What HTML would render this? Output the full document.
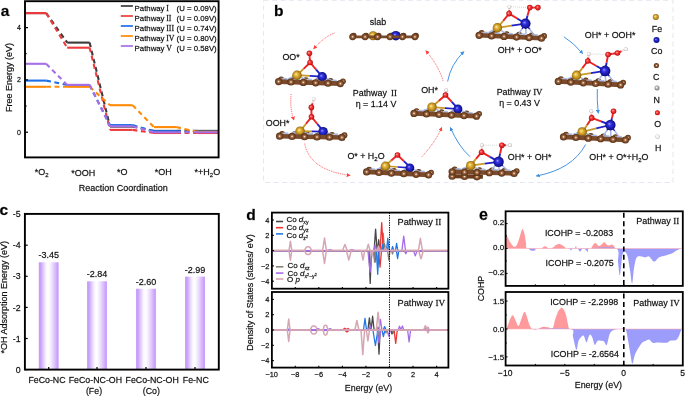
<!DOCTYPE html>
<html><head><meta charset="utf-8"><style>
html,body{margin:0;padding:0;background:#fff;width:685px;height:396px;overflow:hidden}
svg{display:block;will-change:transform}
text{stroke:#000;stroke-width:0.28px;stroke-opacity:0.65}
</style></head><body>
<svg width="685" height="396" viewBox="0 0 685 396">
<text x="0.70" y="16.20" font-size="15.5" font-family="'Liberation Sans', sans-serif" fill="#000" font-weight="bold">a</text>
<line x1="25.80" y1="13.10" x2="46.20" y2="13.10" stroke="#3b3b3b" stroke-width="2.1" stroke-linecap="butt"/>
<line x1="67.20" y1="42.60" x2="89.60" y2="42.60" stroke="#3b3b3b" stroke-width="2.1" stroke-linecap="butt"/>
<line x1="110.00" y1="126.60" x2="132.60" y2="126.60" stroke="#3b3b3b" stroke-width="2.1" stroke-linecap="butt"/>
<line x1="154.00" y1="130.90" x2="176.20" y2="130.90" stroke="#3b3b3b" stroke-width="2.1" stroke-linecap="butt"/>
<line x1="197.20" y1="130.90" x2="218.00" y2="130.90" stroke="#3b3b3b" stroke-width="2.1" stroke-linecap="butt"/>
<line x1="46.20" y1="13.10" x2="67.20" y2="42.60" stroke="#3b3b3b" stroke-width="2.1" stroke-dasharray="4.8 3.6" stroke-dashoffset="0"/>
<line x1="89.60" y1="42.60" x2="110.00" y2="126.60" stroke="#3b3b3b" stroke-width="2.1" stroke-dasharray="4.8 3.6" stroke-dashoffset="0"/>
<line x1="132.60" y1="126.60" x2="154.00" y2="130.90" stroke="#3b3b3b" stroke-width="2.1" stroke-dasharray="4.8 3.6" stroke-dashoffset="0"/>
<line x1="176.20" y1="130.90" x2="197.20" y2="130.90" stroke="#3b3b3b" stroke-width="2.1" stroke-dasharray="4.8 3.6" stroke-dashoffset="0"/>
<line x1="25.80" y1="13.10" x2="46.20" y2="13.10" stroke="#ee3a3c" stroke-width="2.1" stroke-linecap="butt"/>
<line x1="67.20" y1="47.70" x2="89.60" y2="47.70" stroke="#ee3a3c" stroke-width="2.1" stroke-linecap="butt"/>
<line x1="110.00" y1="129.90" x2="132.60" y2="129.90" stroke="#ee3a3c" stroke-width="2.1" stroke-linecap="butt"/>
<line x1="154.00" y1="133.00" x2="176.20" y2="133.00" stroke="#ee3a3c" stroke-width="2.1" stroke-linecap="butt"/>
<line x1="197.20" y1="133.00" x2="218.00" y2="133.00" stroke="#ee3a3c" stroke-width="2.1" stroke-linecap="butt"/>
<line x1="46.20" y1="13.10" x2="67.20" y2="47.70" stroke="#ee3a3c" stroke-width="2.1" stroke-dasharray="4.8 3.6" stroke-dashoffset="0"/>
<line x1="89.60" y1="47.70" x2="110.00" y2="129.90" stroke="#ee3a3c" stroke-width="2.1" stroke-dasharray="4.8 3.6" stroke-dashoffset="0"/>
<line x1="132.60" y1="129.90" x2="154.00" y2="133.00" stroke="#ee3a3c" stroke-width="2.1" stroke-dasharray="4.8 3.6" stroke-dashoffset="0"/>
<line x1="176.20" y1="133.00" x2="197.20" y2="133.00" stroke="#ee3a3c" stroke-width="2.1" stroke-dasharray="4.8 3.6" stroke-dashoffset="0"/>
<line x1="25.80" y1="80.60" x2="46.20" y2="80.60" stroke="#1c6fe8" stroke-width="2.1" stroke-linecap="butt"/>
<line x1="67.20" y1="85.00" x2="89.60" y2="85.00" stroke="#1c6fe8" stroke-width="2.1" stroke-linecap="butt"/>
<line x1="110.00" y1="125.10" x2="132.60" y2="125.10" stroke="#1c6fe8" stroke-width="2.1" stroke-linecap="butt"/>
<line x1="154.00" y1="131.20" x2="176.20" y2="131.20" stroke="#1c6fe8" stroke-width="2.1" stroke-linecap="butt"/>
<line x1="197.20" y1="131.60" x2="218.00" y2="131.60" stroke="#1c6fe8" stroke-width="2.1" stroke-linecap="butt"/>
<line x1="46.20" y1="80.60" x2="67.20" y2="85.00" stroke="#1c6fe8" stroke-width="2.1" stroke-dasharray="4.8 3.6" stroke-dashoffset="0"/>
<line x1="89.60" y1="85.00" x2="110.00" y2="125.10" stroke="#1c6fe8" stroke-width="2.1" stroke-dasharray="4.8 3.6" stroke-dashoffset="0"/>
<line x1="132.60" y1="125.10" x2="154.00" y2="131.20" stroke="#1c6fe8" stroke-width="2.1" stroke-dasharray="4.8 3.6" stroke-dashoffset="0"/>
<line x1="176.20" y1="131.20" x2="197.20" y2="131.60" stroke="#1c6fe8" stroke-width="2.1" stroke-dasharray="4.8 3.6" stroke-dashoffset="0"/>
<line x1="25.80" y1="86.80" x2="46.20" y2="86.80" stroke="#ff8a06" stroke-width="2.1" stroke-linecap="butt"/>
<line x1="67.20" y1="86.80" x2="89.60" y2="86.80" stroke="#ff8a06" stroke-width="2.1" stroke-linecap="butt"/>
<line x1="110.00" y1="105.20" x2="132.60" y2="105.20" stroke="#ff8a06" stroke-width="2.1" stroke-linecap="butt"/>
<line x1="154.00" y1="127.10" x2="176.20" y2="127.10" stroke="#ff8a06" stroke-width="2.1" stroke-linecap="butt"/>
<line x1="197.20" y1="131.80" x2="218.00" y2="131.80" stroke="#ff8a06" stroke-width="2.1" stroke-linecap="butt"/>
<line x1="46.20" y1="86.80" x2="67.20" y2="86.80" stroke="#ff8a06" stroke-width="2.1" stroke-dasharray="4.8 3.6" stroke-dashoffset="0"/>
<line x1="89.60" y1="86.80" x2="110.00" y2="105.20" stroke="#ff8a06" stroke-width="2.1" stroke-dasharray="4.8 3.6" stroke-dashoffset="0"/>
<line x1="132.60" y1="105.20" x2="154.00" y2="127.10" stroke="#ff8a06" stroke-width="2.1" stroke-dasharray="4.8 3.6" stroke-dashoffset="0"/>
<line x1="176.20" y1="127.10" x2="197.20" y2="131.80" stroke="#ff8a06" stroke-width="2.1" stroke-dasharray="4.8 3.6" stroke-dashoffset="0"/>
<line x1="25.80" y1="63.80" x2="46.20" y2="63.80" stroke="#a66fe6" stroke-width="2.1" stroke-linecap="butt"/>
<line x1="67.20" y1="84.90" x2="89.60" y2="84.90" stroke="#a66fe6" stroke-width="2.1" stroke-linecap="butt"/>
<line x1="110.00" y1="126.20" x2="132.60" y2="126.20" stroke="#a66fe6" stroke-width="2.1" stroke-linecap="butt"/>
<line x1="154.00" y1="132.30" x2="176.20" y2="132.30" stroke="#a66fe6" stroke-width="2.1" stroke-linecap="butt"/>
<line x1="197.20" y1="132.30" x2="218.00" y2="132.30" stroke="#a66fe6" stroke-width="2.1" stroke-linecap="butt"/>
<line x1="46.20" y1="63.80" x2="67.20" y2="84.90" stroke="#a66fe6" stroke-width="2.1" stroke-dasharray="4.8 3.6" stroke-dashoffset="0"/>
<line x1="89.60" y1="84.90" x2="110.00" y2="126.20" stroke="#a66fe6" stroke-width="2.1" stroke-dasharray="4.8 3.6" stroke-dashoffset="0"/>
<line x1="132.60" y1="126.20" x2="154.00" y2="132.30" stroke="#a66fe6" stroke-width="2.1" stroke-dasharray="4.8 3.6" stroke-dashoffset="0"/>
<line x1="176.20" y1="132.30" x2="197.20" y2="132.30" stroke="#a66fe6" stroke-width="2.1" stroke-dasharray="4.8 3.6" stroke-dashoffset="0"/>
<rect x="25.00" y="1.20" width="193.60" height="156.20" stroke="#000" stroke-width="1.9" fill="none"/>
<line x1="25.00" y1="132.20" x2="28.00" y2="132.20" stroke="#000" stroke-width="1.2" />
<text x="20.80" y="134.70" font-size="7" font-family="'Liberation Sans', sans-serif" fill="#111" text-anchor="end">0</text>
<line x1="25.00" y1="79.90" x2="28.00" y2="79.90" stroke="#000" stroke-width="1.2" />
<text x="20.80" y="82.40" font-size="7" font-family="'Liberation Sans', sans-serif" fill="#111" text-anchor="end">2</text>
<line x1="25.00" y1="27.60" x2="28.00" y2="27.60" stroke="#000" stroke-width="1.2" />
<text x="20.80" y="30.10" font-size="7" font-family="'Liberation Sans', sans-serif" fill="#111" text-anchor="end">4</text>
<line x1="25.00" y1="106.05" x2="26.80" y2="106.05" stroke="#000" stroke-width="1.0" />
<line x1="25.00" y1="53.75" x2="26.80" y2="53.75" stroke="#000" stroke-width="1.0" />
<text x="12.30" y="77.40" font-size="9" font-family="'Liberation Sans', sans-serif" fill="#111" text-anchor="middle" transform="rotate(-90 12.30 77.40)">Free Energy (eV)</text>
<text x="41.70" y="175.00" font-size="9" font-family="'Liberation Sans', sans-serif" fill="#111" text-anchor="middle">*O<tspan font-size="6" dy="1.7">2</tspan></text>
<text x="83.25" y="175.60" font-size="9" font-family="'Liberation Sans', sans-serif" fill="#111" text-anchor="middle">*OOH</text>
<text x="122.25" y="174.60" font-size="9" font-family="'Liberation Sans', sans-serif" fill="#111" text-anchor="middle">*O</text>
<text x="163.35" y="175.30" font-size="9" font-family="'Liberation Sans', sans-serif" fill="#111" text-anchor="middle">*OH</text>
<text x="207.35" y="175.30" font-size="9" font-family="'Liberation Sans', sans-serif" fill="#111" text-anchor="middle">*+H<tspan font-size="6" dy="1.7">2</tspan><tspan dy="-1.7">O</tspan></text>
<text x="123.20" y="191.30" font-size="9" font-family="'Liberation Sans', sans-serif" fill="#111" text-anchor="middle">Reaction Coordination</text>
<line x1="120.80" y1="6.00" x2="132.90" y2="6.00" stroke="#3b3b3b" stroke-width="1.7" />
<text x="134.60" y="10.60" font-size="7.8" font-family="'Liberation Sans', sans-serif" fill="#111">Pathway</text>
<text x="166.20" y="10.60" font-size="7.8" font-family="'Liberation Serif', serif" fill="#111">I</text>
<text x="176.60" y="10.60" font-size="7.8" font-family="'Liberation Sans', sans-serif" fill="#111">(U = 0.09V)</text>
<line x1="120.80" y1="16.00" x2="132.90" y2="16.00" stroke="#ee3a3c" stroke-width="1.7" />
<text x="134.60" y="20.60" font-size="7.8" font-family="'Liberation Sans', sans-serif" fill="#111">Pathway</text>
<text x="166.20" y="20.60" font-size="7.8" font-family="'Liberation Serif', serif" fill="#111">II</text>
<text x="176.60" y="20.60" font-size="7.8" font-family="'Liberation Sans', sans-serif" fill="#111">(U = 0.09V)</text>
<line x1="120.80" y1="26.00" x2="132.90" y2="26.00" stroke="#1c6fe8" stroke-width="1.7" />
<text x="134.60" y="30.60" font-size="7.8" font-family="'Liberation Sans', sans-serif" fill="#111">Pathway</text>
<text x="166.20" y="30.60" font-size="7.8" font-family="'Liberation Serif', serif" fill="#111">III</text>
<text x="176.60" y="30.60" font-size="7.8" font-family="'Liberation Sans', sans-serif" fill="#111">(U = 0.74V)</text>
<line x1="120.80" y1="36.00" x2="132.90" y2="36.00" stroke="#ff8a06" stroke-width="1.7" />
<text x="134.60" y="40.60" font-size="7.8" font-family="'Liberation Sans', sans-serif" fill="#111">Pathway</text>
<text x="166.20" y="40.60" font-size="7.8" font-family="'Liberation Serif', serif" fill="#111">IV</text>
<text x="176.60" y="40.60" font-size="7.8" font-family="'Liberation Sans', sans-serif" fill="#111">(U = 0.80V)</text>
<line x1="120.80" y1="46.00" x2="132.90" y2="46.00" stroke="#a66fe6" stroke-width="1.7" />
<text x="134.60" y="50.60" font-size="7.8" font-family="'Liberation Sans', sans-serif" fill="#111">Pathway</text>
<text x="166.20" y="50.60" font-size="7.8" font-family="'Liberation Serif', serif" fill="#111">V</text>
<text x="176.60" y="50.60" font-size="7.8" font-family="'Liberation Sans', sans-serif" fill="#111">(U = 0.58V)</text>
<defs><radialGradient id="gC" cx="50%" cy="50%" r="55%" fx="50%" fy="50%"><stop offset="0" stop-color="#faeedc"/><stop offset="0.13" stop-color="#e2c09c"/><stop offset="0.32" stop-color="#9e6846"/><stop offset="0.68" stop-color="#704222"/><stop offset="1" stop-color="#4a2810"/></radialGradient><radialGradient id="gFe" cx="50%" cy="50%" r="55%" fx="38%" fy="38%"><stop offset="0" stop-color="#fff2a8"/><stop offset="0.3" stop-color="#e6b840"/><stop offset="0.7" stop-color="#b88818"/><stop offset="1" stop-color="#6e4c08"/></radialGradient><radialGradient id="gCo" cx="50%" cy="50%" r="55%" fx="38%" fy="38%"><stop offset="0" stop-color="#9a9aff"/><stop offset="0.3" stop-color="#3434e0"/><stop offset="0.7" stop-color="#1818a8"/><stop offset="1" stop-color="#0a0a5c"/></radialGradient><radialGradient id="gO" cx="50%" cy="50%" r="55%" fx="38%" fy="38%"><stop offset="0" stop-color="#ffc4c4"/><stop offset="0.3" stop-color="#ff4444"/><stop offset="0.7" stop-color="#dc1a1a"/><stop offset="1" stop-color="#8c0c0c"/></radialGradient><radialGradient id="gH" cx="50%" cy="50%" r="55%" fx="38%" fy="38%"><stop offset="0" stop-color="#ffffff"/><stop offset="0.55" stop-color="#f4f0f0"/><stop offset="1" stop-color="#b09a9a"/></radialGradient><radialGradient id="gN" cx="50%" cy="50%" r="55%" fx="38%" fy="38%"><stop offset="0" stop-color="#ffffff"/><stop offset="0.4" stop-color="#c4d0ee"/><stop offset="1" stop-color="#7c8cc0"/></radialGradient><radialGradient id="gNg" cx="50%" cy="50%" r="55%" fx="38%" fy="38%"><stop offset="0" stop-color="#ffffff"/><stop offset="0.35" stop-color="#c8c8c8"/><stop offset="1" stop-color="#707070"/></radialGradient><marker id="ahr" viewBox="0 0 6 6" refX="5" refY="3" markerWidth="4" markerHeight="4" orient="auto" markerUnits="userSpaceOnUse"><path d="M0,0 L6,3 L0,6 z" fill="#ff3c3c"/></marker><marker id="ahb" viewBox="0 0 6 6" refX="5" refY="3" markerWidth="4" markerHeight="4" orient="auto" markerUnits="userSpaceOnUse"><path d="M0,0 L6,3 L0,6 z" fill="#3c8ee0"/></marker></defs>
<rect x="263.6" y="0.3" width="409.4" height="182.2" fill="none" stroke="#e4e6f0" stroke-width="1" stroke-dasharray="5 3.5"/>
<text x="273.90" y="16.30" font-size="15.5" font-family="'Liberation Sans', sans-serif" fill="#000" font-weight="bold">b</text>
<circle cx="353.60" cy="35.80" r="3.00" fill="url(#gC)"/>
<circle cx="366.06" cy="35.80" r="3.00" fill="url(#gC)"/>
<circle cx="378.52" cy="35.80" r="3.00" fill="url(#gC)"/>
<circle cx="390.98" cy="35.80" r="3.00" fill="url(#gC)"/>
<circle cx="403.44" cy="35.80" r="3.00" fill="url(#gC)"/>
<circle cx="415.90" cy="35.80" r="3.00" fill="url(#gC)"/>
<circle cx="373.10" cy="35.70" r="4.50" fill="url(#gFe)"/>
<circle cx="395.80" cy="35.70" r="4.80" fill="url(#gCo)"/>
<line x1="352.60" y1="36.80" x2="414.90" y2="36.80" stroke="#7a4a2a" stroke-width="2.8"/>
<circle cx="352.60" cy="36.80" r="3.40" fill="url(#gC)"/>
<circle cx="365.06" cy="36.80" r="3.40" fill="url(#gC)"/>
<circle cx="377.52" cy="36.80" r="3.40" fill="url(#gC)"/>
<circle cx="389.98" cy="36.80" r="3.40" fill="url(#gC)"/>
<circle cx="402.44" cy="36.80" r="3.40" fill="url(#gC)"/>
<circle cx="414.90" cy="36.80" r="3.40" fill="url(#gC)"/>
<text x="378.00" y="25.20" font-size="8.9" font-family="'Liberation Sans', sans-serif" fill="#111" text-anchor="middle">slab</text>
<circle cx="281.20" cy="79.30" r="2.90" fill="url(#gC)"/>
<circle cx="293.55" cy="79.70" r="2.90" fill="url(#gC)"/>
<circle cx="305.90" cy="80.10" r="2.90" fill="url(#gC)"/>
<circle cx="318.25" cy="80.50" r="2.90" fill="url(#gC)"/>
<circle cx="330.60" cy="80.90" r="2.90" fill="url(#gC)"/>
<circle cx="342.95" cy="81.30" r="2.90" fill="url(#gC)"/>
<ellipse cx="284.78" cy="79.20" rx="3.0" ry="1.4" fill="#aebde2"/>
<ellipse cx="297.12" cy="79.60" rx="3.0" ry="1.4" fill="#aebde2"/>
<ellipse cx="309.48" cy="80.00" rx="3.0" ry="1.4" fill="#aebde2"/>
<ellipse cx="321.83" cy="80.40" rx="3.0" ry="1.4" fill="#aebde2"/>
<ellipse cx="334.18" cy="80.80" rx="3.0" ry="1.4" fill="#aebde2"/>
<line x1="297.00" y1="75.20" x2="292.50" y2="77.05" stroke="#c89a28" stroke-width="1.6"/>
<line x1="292.50" y1="77.05" x2="288.00" y2="78.90" stroke="#a8b8e0" stroke-width="1.6"/>
<line x1="297.00" y1="75.20" x2="301.00" y2="77.33" stroke="#c89a28" stroke-width="1.6"/>
<line x1="301.00" y1="77.33" x2="305.00" y2="79.46" stroke="#a8b8e0" stroke-width="1.6"/>
<line x1="297.00" y1="75.20" x2="309.60" y2="75.95" stroke="#c89a28" stroke-width="1.7"/>
<line x1="309.60" y1="75.95" x2="322.20" y2="76.70" stroke="#2020c8" stroke-width="1.7"/>
<line x1="322.20" y1="76.70" x2="318.70" y2="78.24" stroke="#2020c8" stroke-width="1.5"/>
<line x1="318.70" y1="78.24" x2="315.20" y2="79.79" stroke="#a8b8e0" stroke-width="1.5"/>
<line x1="322.20" y1="76.70" x2="322.45" y2="78.36" stroke="#2020c8" stroke-width="1.5"/>
<line x1="322.45" y1="78.36" x2="322.70" y2="80.03" stroke="#a8b8e0" stroke-width="1.5"/>
<line x1="322.20" y1="76.70" x2="326.45" y2="78.49" stroke="#2020c8" stroke-width="1.5"/>
<line x1="326.45" y1="78.49" x2="330.70" y2="80.29" stroke="#a8b8e0" stroke-width="1.5"/>
<line x1="309.40" y1="53.30" x2="309.75" y2="57.90" stroke="#ee2222" stroke-width="1.9"/>
<line x1="309.75" y1="57.90" x2="310.10" y2="62.50" stroke="#ee2222" stroke-width="1.9"/>
<line x1="310.10" y1="62.50" x2="303.55" y2="68.85" stroke="#ee2222" stroke-width="1.9"/>
<line x1="303.55" y1="68.85" x2="297.00" y2="75.20" stroke="#c89a28" stroke-width="1.9"/>
<line x1="310.10" y1="62.50" x2="316.15" y2="69.60" stroke="#ee2222" stroke-width="1.9"/>
<line x1="316.15" y1="69.60" x2="322.20" y2="76.70" stroke="#2020c8" stroke-width="1.9"/>
<circle cx="297.00" cy="75.20" r="4.70" fill="url(#gFe)"/>
<circle cx="322.20" cy="76.70" r="4.70" fill="url(#gCo)"/>
<line x1="278.60" y1="81.60" x2="340.35" y2="83.60" stroke="#7a4a2a" stroke-width="4.6"/>
<circle cx="278.60" cy="81.60" r="3.60" fill="url(#gC)"/>
<circle cx="290.95" cy="82.00" r="3.60" fill="url(#gC)"/>
<circle cx="303.30" cy="82.40" r="3.60" fill="url(#gC)"/>
<circle cx="315.65" cy="82.80" r="3.60" fill="url(#gC)"/>
<circle cx="328.00" cy="83.20" r="3.60" fill="url(#gC)"/>
<circle cx="340.35" cy="83.60" r="3.60" fill="url(#gC)"/>
<circle cx="309.40" cy="53.30" r="2.80" fill="url(#gO)"/>
<circle cx="310.10" cy="62.50" r="2.80" fill="url(#gO)"/>
<text x="282.40" y="60.00" font-size="8.9" font-family="'Liberation Sans', sans-serif" fill="#111">OO*</text>
<circle cx="282.20" cy="133.90" r="2.90" fill="url(#gC)"/>
<circle cx="294.66" cy="134.15" r="2.90" fill="url(#gC)"/>
<circle cx="307.12" cy="134.40" r="2.90" fill="url(#gC)"/>
<circle cx="319.58" cy="134.65" r="2.90" fill="url(#gC)"/>
<circle cx="332.04" cy="134.90" r="2.90" fill="url(#gC)"/>
<circle cx="344.50" cy="135.15" r="2.90" fill="url(#gC)"/>
<ellipse cx="285.83" cy="133.72" rx="3.0" ry="1.4" fill="#aebde2"/>
<ellipse cx="298.29" cy="133.97" rx="3.0" ry="1.4" fill="#aebde2"/>
<ellipse cx="310.75" cy="134.22" rx="3.0" ry="1.4" fill="#aebde2"/>
<ellipse cx="323.21" cy="134.47" rx="3.0" ry="1.4" fill="#aebde2"/>
<ellipse cx="335.67" cy="134.72" rx="3.0" ry="1.4" fill="#aebde2"/>
<line x1="300.10" y1="131.10" x2="295.60" y2="132.27" stroke="#c89a28" stroke-width="1.6"/>
<line x1="295.60" y1="132.27" x2="291.10" y2="133.43" stroke="#a8b8e0" stroke-width="1.6"/>
<line x1="300.10" y1="131.10" x2="304.10" y2="132.44" stroke="#c89a28" stroke-width="1.6"/>
<line x1="304.10" y1="132.44" x2="308.10" y2="133.77" stroke="#a8b8e0" stroke-width="1.6"/>
<line x1="300.10" y1="131.10" x2="311.60" y2="131.35" stroke="#c89a28" stroke-width="1.7"/>
<line x1="311.60" y1="131.35" x2="323.10" y2="131.60" stroke="#2020c8" stroke-width="1.7"/>
<line x1="323.10" y1="131.60" x2="319.60" y2="132.77" stroke="#2020c8" stroke-width="1.5"/>
<line x1="319.60" y1="132.77" x2="316.10" y2="133.93" stroke="#a8b8e0" stroke-width="1.5"/>
<line x1="323.10" y1="131.60" x2="323.35" y2="132.84" stroke="#2020c8" stroke-width="1.5"/>
<line x1="323.35" y1="132.84" x2="323.60" y2="134.08" stroke="#a8b8e0" stroke-width="1.5"/>
<line x1="323.10" y1="131.60" x2="327.35" y2="132.92" stroke="#2020c8" stroke-width="1.5"/>
<line x1="327.35" y1="132.92" x2="331.60" y2="134.24" stroke="#a8b8e0" stroke-width="1.5"/>
<line x1="313.80" y1="99.10" x2="312.60" y2="103.25" stroke="#e8e0e0" stroke-width="1.9"/>
<line x1="312.60" y1="103.25" x2="311.40" y2="107.40" stroke="#ee2222" stroke-width="1.9"/>
<line x1="311.40" y1="107.40" x2="311.45" y2="112.10" stroke="#ee2222" stroke-width="1.9"/>
<line x1="311.45" y1="112.10" x2="311.50" y2="116.80" stroke="#ee2222" stroke-width="1.9"/>
<line x1="311.50" y1="116.80" x2="305.85" y2="124.00" stroke="#ee2222" stroke-width="1.9"/>
<line x1="305.85" y1="124.00" x2="300.20" y2="131.20" stroke="#c89a28" stroke-width="1.9"/>
<line x1="311.50" y1="116.80" x2="317.40" y2="124.00" stroke="#ee2222" stroke-width="1.9"/>
<line x1="317.40" y1="124.00" x2="323.30" y2="131.20" stroke="#2020c8" stroke-width="1.9"/>
<circle cx="300.10" cy="131.10" r="4.70" fill="url(#gFe)"/>
<circle cx="323.10" cy="131.60" r="4.70" fill="url(#gCo)"/>
<line x1="279.60" y1="136.20" x2="341.90" y2="137.45" stroke="#7a4a2a" stroke-width="4.6"/>
<circle cx="279.60" cy="136.20" r="3.60" fill="url(#gC)"/>
<circle cx="292.06" cy="136.45" r="3.60" fill="url(#gC)"/>
<circle cx="304.52" cy="136.70" r="3.60" fill="url(#gC)"/>
<circle cx="316.98" cy="136.95" r="3.60" fill="url(#gC)"/>
<circle cx="329.44" cy="137.20" r="3.60" fill="url(#gC)"/>
<circle cx="341.90" cy="137.45" r="3.60" fill="url(#gC)"/>
<circle cx="313.80" cy="99.10" r="1.90" fill="url(#gH)"/>
<circle cx="311.40" cy="107.40" r="2.80" fill="url(#gO)"/>
<circle cx="311.50" cy="116.80" r="2.80" fill="url(#gO)"/>
<text x="265.80" y="126.10" font-size="8.9" font-family="'Liberation Sans', sans-serif" fill="#111">OOH*</text>
<circle cx="369.20" cy="169.60" r="2.90" fill="url(#gC)"/>
<circle cx="381.58" cy="170.20" r="2.90" fill="url(#gC)"/>
<circle cx="393.96" cy="170.80" r="2.90" fill="url(#gC)"/>
<circle cx="406.34" cy="171.40" r="2.90" fill="url(#gC)"/>
<circle cx="418.72" cy="172.00" r="2.90" fill="url(#gC)"/>
<circle cx="431.10" cy="172.60" r="2.90" fill="url(#gC)"/>
<ellipse cx="372.79" cy="169.60" rx="3.0" ry="1.4" fill="#aebde2"/>
<ellipse cx="385.17" cy="170.20" rx="3.0" ry="1.4" fill="#aebde2"/>
<ellipse cx="397.55" cy="170.80" rx="3.0" ry="1.4" fill="#aebde2"/>
<ellipse cx="409.93" cy="171.40" rx="3.0" ry="1.4" fill="#aebde2"/>
<ellipse cx="422.31" cy="172.00" rx="3.0" ry="1.4" fill="#aebde2"/>
<line x1="385.50" y1="166.20" x2="381.00" y2="167.79" stroke="#c89a28" stroke-width="1.6"/>
<line x1="381.00" y1="167.79" x2="376.50" y2="169.38" stroke="#a8b8e0" stroke-width="1.6"/>
<line x1="385.50" y1="166.20" x2="389.50" y2="168.20" stroke="#c89a28" stroke-width="1.6"/>
<line x1="389.50" y1="168.20" x2="393.50" y2="170.20" stroke="#a8b8e0" stroke-width="1.6"/>
<line x1="385.50" y1="166.20" x2="397.70" y2="167.00" stroke="#c89a28" stroke-width="1.7"/>
<line x1="397.70" y1="167.00" x2="409.90" y2="167.80" stroke="#2020c8" stroke-width="1.7"/>
<line x1="409.90" y1="167.80" x2="406.40" y2="169.23" stroke="#2020c8" stroke-width="1.5"/>
<line x1="406.40" y1="169.23" x2="402.90" y2="170.66" stroke="#a8b8e0" stroke-width="1.5"/>
<line x1="409.90" y1="167.80" x2="410.15" y2="169.41" stroke="#2020c8" stroke-width="1.5"/>
<line x1="410.15" y1="169.41" x2="410.40" y2="171.02" stroke="#a8b8e0" stroke-width="1.5"/>
<line x1="409.90" y1="167.80" x2="414.15" y2="169.61" stroke="#2020c8" stroke-width="1.5"/>
<line x1="414.15" y1="169.61" x2="418.40" y2="171.41" stroke="#a8b8e0" stroke-width="1.5"/>
<line x1="397.50" y1="155.00" x2="391.25" y2="160.45" stroke="#ee2222" stroke-width="1.9"/>
<line x1="391.25" y1="160.45" x2="385.00" y2="165.90" stroke="#c89a28" stroke-width="1.9"/>
<line x1="397.50" y1="155.00" x2="403.85" y2="161.10" stroke="#ee2222" stroke-width="1.9"/>
<line x1="403.85" y1="161.10" x2="410.20" y2="167.20" stroke="#2020c8" stroke-width="1.9"/>
<circle cx="385.50" cy="166.20" r="4.70" fill="url(#gFe)"/>
<circle cx="409.90" cy="167.80" r="4.40" fill="url(#gCo)"/>
<line x1="366.60" y1="171.90" x2="428.50" y2="174.90" stroke="#7a4a2a" stroke-width="4.6"/>
<circle cx="366.60" cy="171.90" r="3.60" fill="url(#gC)"/>
<circle cx="378.98" cy="172.50" r="3.60" fill="url(#gC)"/>
<circle cx="391.36" cy="173.10" r="3.60" fill="url(#gC)"/>
<circle cx="403.74" cy="173.70" r="3.60" fill="url(#gC)"/>
<circle cx="416.12" cy="174.30" r="3.60" fill="url(#gC)"/>
<circle cx="428.50" cy="174.90" r="3.60" fill="url(#gC)"/>
<circle cx="397.50" cy="155.00" r="2.80" fill="url(#gO)"/>
<text x="347.40" y="159.00" font-size="8.9" font-family="'Liberation Sans', sans-serif" fill="#111">O* + H<tspan font-size="6" dy="1.7">2</tspan><tspan dy="-1.7">O</tspan></text>
<circle cx="416.60" cy="111.10" r="2.90" fill="url(#gC)"/>
<circle cx="429.10" cy="111.65" r="2.90" fill="url(#gC)"/>
<circle cx="441.60" cy="112.20" r="2.90" fill="url(#gC)"/>
<circle cx="454.10" cy="112.75" r="2.90" fill="url(#gC)"/>
<circle cx="466.60" cy="113.30" r="2.90" fill="url(#gC)"/>
<circle cx="479.10" cy="113.85" r="2.90" fill="url(#gC)"/>
<ellipse cx="420.25" cy="111.08" rx="3.0" ry="1.4" fill="#aebde2"/>
<ellipse cx="432.75" cy="111.62" rx="3.0" ry="1.4" fill="#aebde2"/>
<ellipse cx="445.25" cy="112.18" rx="3.0" ry="1.4" fill="#aebde2"/>
<ellipse cx="457.75" cy="112.73" rx="3.0" ry="1.4" fill="#aebde2"/>
<ellipse cx="470.25" cy="113.28" rx="3.0" ry="1.4" fill="#aebde2"/>
<line x1="432.00" y1="107.10" x2="427.50" y2="108.95" stroke="#c89a28" stroke-width="1.6"/>
<line x1="427.50" y1="108.95" x2="423.00" y2="110.80" stroke="#a8b8e0" stroke-width="1.6"/>
<line x1="432.00" y1="107.10" x2="436.00" y2="109.32" stroke="#c89a28" stroke-width="1.6"/>
<line x1="436.00" y1="109.32" x2="440.00" y2="111.54" stroke="#a8b8e0" stroke-width="1.6"/>
<line x1="432.00" y1="107.10" x2="444.95" y2="108.05" stroke="#c89a28" stroke-width="1.7"/>
<line x1="444.95" y1="108.05" x2="457.90" y2="109.00" stroke="#2020c8" stroke-width="1.7"/>
<line x1="457.90" y1="109.00" x2="454.40" y2="110.51" stroke="#2020c8" stroke-width="1.5"/>
<line x1="454.40" y1="110.51" x2="450.90" y2="112.02" stroke="#a8b8e0" stroke-width="1.5"/>
<line x1="457.90" y1="109.00" x2="458.15" y2="110.68" stroke="#2020c8" stroke-width="1.5"/>
<line x1="458.15" y1="110.68" x2="458.40" y2="112.35" stroke="#a8b8e0" stroke-width="1.5"/>
<line x1="457.90" y1="109.00" x2="462.15" y2="110.85" stroke="#2020c8" stroke-width="1.5"/>
<line x1="462.15" y1="110.85" x2="466.40" y2="112.71" stroke="#a8b8e0" stroke-width="1.5"/>
<line x1="446.20" y1="90.20" x2="445.85" y2="92.60" stroke="#e8e0e0" stroke-width="1.9"/>
<line x1="445.85" y1="92.60" x2="445.50" y2="95.00" stroke="#ee2222" stroke-width="1.9"/>
<line x1="445.50" y1="95.00" x2="438.65" y2="101.05" stroke="#ee2222" stroke-width="1.9"/>
<line x1="438.65" y1="101.05" x2="431.80" y2="107.10" stroke="#c89a28" stroke-width="1.9"/>
<line x1="445.50" y1="95.00" x2="451.75" y2="101.80" stroke="#ee2222" stroke-width="1.9"/>
<line x1="451.75" y1="101.80" x2="458.00" y2="108.60" stroke="#2020c8" stroke-width="1.9"/>
<circle cx="432.00" cy="107.10" r="4.70" fill="url(#gFe)"/>
<circle cx="457.90" cy="109.00" r="4.50" fill="url(#gCo)"/>
<line x1="414.00" y1="113.40" x2="476.50" y2="116.15" stroke="#7a4a2a" stroke-width="4.6"/>
<circle cx="414.00" cy="113.40" r="3.60" fill="url(#gC)"/>
<circle cx="426.50" cy="113.95" r="3.60" fill="url(#gC)"/>
<circle cx="439.00" cy="114.50" r="3.60" fill="url(#gC)"/>
<circle cx="451.50" cy="115.05" r="3.60" fill="url(#gC)"/>
<circle cx="464.00" cy="115.60" r="3.60" fill="url(#gC)"/>
<circle cx="476.50" cy="116.15" r="3.60" fill="url(#gC)"/>
<circle cx="446.20" cy="90.20" r="1.90" fill="url(#gH)"/>
<circle cx="445.50" cy="95.00" r="2.80" fill="url(#gO)"/>
<text x="421.20" y="92.90" font-size="8.9" font-family="'Liberation Sans', sans-serif" fill="#111">OH*</text>
<circle cx="481.70" cy="33.00" r="2.90" fill="url(#gC)"/>
<circle cx="494.18" cy="33.58" r="2.90" fill="url(#gC)"/>
<circle cx="506.66" cy="34.16" r="2.90" fill="url(#gC)"/>
<circle cx="519.14" cy="34.74" r="2.90" fill="url(#gC)"/>
<circle cx="531.62" cy="35.32" r="2.90" fill="url(#gC)"/>
<circle cx="544.10" cy="35.90" r="2.90" fill="url(#gC)"/>
<ellipse cx="485.34" cy="32.99" rx="3.0" ry="1.4" fill="#aebde2"/>
<ellipse cx="497.82" cy="33.57" rx="3.0" ry="1.4" fill="#aebde2"/>
<ellipse cx="510.30" cy="34.15" rx="3.0" ry="1.4" fill="#aebde2"/>
<ellipse cx="522.78" cy="34.73" rx="3.0" ry="1.4" fill="#aebde2"/>
<ellipse cx="535.26" cy="35.31" rx="3.0" ry="1.4" fill="#aebde2"/>
<line x1="497.40" y1="27.80" x2="492.90" y2="30.27" stroke="#c89a28" stroke-width="1.6"/>
<line x1="492.90" y1="30.27" x2="488.40" y2="32.73" stroke="#a8b8e0" stroke-width="1.6"/>
<line x1="497.40" y1="27.80" x2="501.40" y2="30.66" stroke="#c89a28" stroke-width="1.6"/>
<line x1="501.40" y1="30.66" x2="505.40" y2="33.52" stroke="#a8b8e0" stroke-width="1.6"/>
<line x1="497.40" y1="27.80" x2="511.45" y2="25.70" stroke="#c89a28" stroke-width="1.7"/>
<line x1="511.45" y1="25.70" x2="525.50" y2="23.60" stroke="#2020c8" stroke-width="1.7"/>
<line x1="525.50" y1="23.60" x2="522.00" y2="28.87" stroke="#2020c8" stroke-width="1.5"/>
<line x1="522.00" y1="28.87" x2="518.50" y2="34.13" stroke="#a8b8e0" stroke-width="1.5"/>
<line x1="525.50" y1="23.60" x2="525.75" y2="29.04" stroke="#2020c8" stroke-width="1.5"/>
<line x1="525.75" y1="29.04" x2="526.00" y2="34.48" stroke="#a8b8e0" stroke-width="1.5"/>
<line x1="525.50" y1="23.60" x2="529.75" y2="29.23" stroke="#2020c8" stroke-width="1.5"/>
<line x1="529.75" y1="29.23" x2="534.00" y2="34.85" stroke="#a8b8e0" stroke-width="1.5"/>
<line x1="509.40" y1="6.80" x2="509.25" y2="10.20" stroke="#e8e0e0" stroke-width="1.9"/>
<line x1="509.25" y1="10.20" x2="509.10" y2="13.60" stroke="#ee2222" stroke-width="1.9"/>
<line x1="509.10" y1="13.60" x2="503.20" y2="20.80" stroke="#ee2222" stroke-width="1.9"/>
<line x1="503.20" y1="20.80" x2="497.30" y2="28.00" stroke="#c89a28" stroke-width="1.9"/>
<line x1="509.10" y1="13.60" x2="517.20" y2="18.55" stroke="#ee2222" stroke-width="1.9"/>
<line x1="517.20" y1="18.55" x2="525.30" y2="23.50" stroke="#2020c8" stroke-width="1.9"/>
<line x1="525.30" y1="23.50" x2="527.55" y2="15.55" stroke="#2020c8" stroke-width="1.9"/>
<line x1="527.55" y1="15.55" x2="529.80" y2="7.60" stroke="#ee2222" stroke-width="1.9"/>
<line x1="529.80" y1="7.60" x2="533.85" y2="7.60" stroke="#ee2222" stroke-width="1.9"/>
<line x1="533.85" y1="7.60" x2="537.90" y2="7.60" stroke="#ee2222" stroke-width="1.9"/>
<line x1="511.00" y1="6.80" x2="527.00" y2="7.40" stroke="#c8c8c8" stroke-width="0.8" stroke-dasharray="1 1"/>
<circle cx="497.40" cy="27.80" r="4.70" fill="url(#gFe)"/>
<circle cx="525.50" cy="23.60" r="5.10" fill="url(#gCo)"/>
<line x1="479.10" y1="35.30" x2="541.50" y2="38.20" stroke="#7a4a2a" stroke-width="4.6"/>
<circle cx="479.10" cy="35.30" r="3.60" fill="url(#gC)"/>
<circle cx="491.58" cy="35.88" r="3.60" fill="url(#gC)"/>
<circle cx="504.06" cy="36.46" r="3.60" fill="url(#gC)"/>
<circle cx="516.54" cy="37.04" r="3.60" fill="url(#gC)"/>
<circle cx="529.02" cy="37.62" r="3.60" fill="url(#gC)"/>
<circle cx="541.50" cy="38.20" r="3.60" fill="url(#gC)"/>
<circle cx="509.40" cy="6.80" r="1.90" fill="url(#gH)"/>
<circle cx="509.10" cy="13.60" r="2.80" fill="url(#gO)"/>
<circle cx="529.80" cy="7.60" r="2.80" fill="url(#gO)"/>
<circle cx="537.90" cy="7.60" r="2.80" fill="url(#gO)"/>
<text x="497.70" y="53.20" font-size="8.9" font-family="'Liberation Sans', sans-serif" fill="#111">OH* + OO*</text>
<circle cx="560.90" cy="79.10" r="2.90" fill="url(#gC)"/>
<circle cx="573.35" cy="79.80" r="2.90" fill="url(#gC)"/>
<circle cx="585.80" cy="80.50" r="2.90" fill="url(#gC)"/>
<circle cx="598.25" cy="81.20" r="2.90" fill="url(#gC)"/>
<circle cx="610.70" cy="81.90" r="2.90" fill="url(#gC)"/>
<circle cx="623.15" cy="82.60" r="2.90" fill="url(#gC)"/>
<ellipse cx="564.52" cy="79.15" rx="3.0" ry="1.4" fill="#aebde2"/>
<ellipse cx="576.97" cy="79.85" rx="3.0" ry="1.4" fill="#aebde2"/>
<ellipse cx="589.42" cy="80.55" rx="3.0" ry="1.4" fill="#aebde2"/>
<ellipse cx="601.88" cy="81.25" rx="3.0" ry="1.4" fill="#aebde2"/>
<ellipse cx="614.32" cy="81.95" rx="3.0" ry="1.4" fill="#aebde2"/>
<line x1="576.60" y1="75.30" x2="572.10" y2="77.11" stroke="#c89a28" stroke-width="1.6"/>
<line x1="572.10" y1="77.11" x2="567.60" y2="78.92" stroke="#a8b8e0" stroke-width="1.6"/>
<line x1="576.60" y1="75.30" x2="580.60" y2="77.59" stroke="#c89a28" stroke-width="1.6"/>
<line x1="580.60" y1="77.59" x2="584.60" y2="79.88" stroke="#a8b8e0" stroke-width="1.6"/>
<line x1="576.60" y1="75.30" x2="590.85" y2="73.10" stroke="#c89a28" stroke-width="1.7"/>
<line x1="590.85" y1="73.10" x2="605.10" y2="70.90" stroke="#2020c8" stroke-width="1.7"/>
<line x1="605.10" y1="70.90" x2="601.60" y2="75.77" stroke="#2020c8" stroke-width="1.5"/>
<line x1="601.60" y1="75.77" x2="598.10" y2="80.64" stroke="#a8b8e0" stroke-width="1.5"/>
<line x1="605.10" y1="70.90" x2="605.35" y2="75.98" stroke="#2020c8" stroke-width="1.5"/>
<line x1="605.35" y1="75.98" x2="605.60" y2="81.06" stroke="#a8b8e0" stroke-width="1.5"/>
<line x1="605.10" y1="70.90" x2="609.35" y2="76.20" stroke="#2020c8" stroke-width="1.5"/>
<line x1="609.35" y1="76.20" x2="613.60" y2="81.51" stroke="#a8b8e0" stroke-width="1.5"/>
<line x1="588.80" y1="54.00" x2="588.30" y2="57.50" stroke="#e8e0e0" stroke-width="1.9"/>
<line x1="588.30" y1="57.50" x2="587.80" y2="61.00" stroke="#ee2222" stroke-width="1.9"/>
<line x1="587.80" y1="61.00" x2="582.30" y2="68.15" stroke="#ee2222" stroke-width="1.9"/>
<line x1="582.30" y1="68.15" x2="576.80" y2="75.30" stroke="#c89a28" stroke-width="1.9"/>
<line x1="587.80" y1="61.00" x2="596.45" y2="65.95" stroke="#ee2222" stroke-width="1.9"/>
<line x1="596.45" y1="65.95" x2="605.10" y2="70.90" stroke="#2020c8" stroke-width="1.9"/>
<line x1="605.10" y1="70.90" x2="606.60" y2="62.70" stroke="#2020c8" stroke-width="1.9"/>
<line x1="606.60" y1="62.70" x2="608.10" y2="54.50" stroke="#ee2222" stroke-width="1.9"/>
<line x1="608.10" y1="54.50" x2="612.80" y2="53.75" stroke="#ee2222" stroke-width="1.9"/>
<line x1="612.80" y1="53.75" x2="617.50" y2="53.00" stroke="#ee2222" stroke-width="1.9"/>
<line x1="617.50" y1="53.00" x2="621.65" y2="51.10" stroke="#ee2222" stroke-width="1.9"/>
<line x1="621.65" y1="51.10" x2="625.80" y2="49.20" stroke="#e8e0e0" stroke-width="1.9"/>
<line x1="590.50" y1="54.00" x2="605.50" y2="54.40" stroke="#c8c8c8" stroke-width="0.8" stroke-dasharray="1 1"/>
<circle cx="576.60" cy="75.30" r="4.70" fill="url(#gFe)"/>
<circle cx="605.10" cy="70.90" r="5.30" fill="url(#gCo)"/>
<line x1="558.30" y1="81.40" x2="620.55" y2="84.90" stroke="#7a4a2a" stroke-width="4.6"/>
<circle cx="558.30" cy="81.40" r="3.60" fill="url(#gC)"/>
<circle cx="570.75" cy="82.10" r="3.60" fill="url(#gC)"/>
<circle cx="583.20" cy="82.80" r="3.60" fill="url(#gC)"/>
<circle cx="595.65" cy="83.50" r="3.60" fill="url(#gC)"/>
<circle cx="608.10" cy="84.20" r="3.60" fill="url(#gC)"/>
<circle cx="620.55" cy="84.90" r="3.60" fill="url(#gC)"/>
<circle cx="588.80" cy="54.00" r="1.90" fill="url(#gH)"/>
<circle cx="587.80" cy="61.00" r="2.80" fill="url(#gO)"/>
<circle cx="608.10" cy="54.50" r="2.80" fill="url(#gO)"/>
<circle cx="617.50" cy="53.00" r="2.80" fill="url(#gO)"/>
<circle cx="625.80" cy="49.20" r="1.90" fill="url(#gH)"/>
<text x="584.80" y="37.70" font-size="8.9" font-family="'Liberation Sans', sans-serif" fill="#111">OH* + OOH*</text>
<circle cx="566.10" cy="134.60" r="2.90" fill="url(#gC)"/>
<circle cx="578.48" cy="135.22" r="2.90" fill="url(#gC)"/>
<circle cx="590.86" cy="135.84" r="2.90" fill="url(#gC)"/>
<circle cx="603.24" cy="136.46" r="2.90" fill="url(#gC)"/>
<circle cx="615.62" cy="137.08" r="2.90" fill="url(#gC)"/>
<circle cx="628.00" cy="137.70" r="2.90" fill="url(#gC)"/>
<ellipse cx="569.69" cy="134.61" rx="3.0" ry="1.4" fill="#aebde2"/>
<ellipse cx="582.07" cy="135.23" rx="3.0" ry="1.4" fill="#aebde2"/>
<ellipse cx="594.45" cy="135.85" rx="3.0" ry="1.4" fill="#aebde2"/>
<ellipse cx="606.83" cy="136.47" rx="3.0" ry="1.4" fill="#aebde2"/>
<ellipse cx="619.21" cy="137.09" rx="3.0" ry="1.4" fill="#aebde2"/>
<line x1="582.20" y1="131.90" x2="577.70" y2="133.14" stroke="#c89a28" stroke-width="1.6"/>
<line x1="577.70" y1="133.14" x2="573.20" y2="134.39" stroke="#a8b8e0" stroke-width="1.6"/>
<line x1="582.20" y1="131.90" x2="586.20" y2="133.57" stroke="#c89a28" stroke-width="1.6"/>
<line x1="586.20" y1="133.57" x2="590.20" y2="135.24" stroke="#a8b8e0" stroke-width="1.6"/>
<line x1="582.20" y1="131.90" x2="596.30" y2="128.45" stroke="#c89a28" stroke-width="1.7"/>
<line x1="596.30" y1="128.45" x2="610.40" y2="125.00" stroke="#2020c8" stroke-width="1.7"/>
<line x1="610.40" y1="125.00" x2="606.90" y2="130.45" stroke="#2020c8" stroke-width="1.5"/>
<line x1="606.90" y1="130.45" x2="603.40" y2="135.90" stroke="#a8b8e0" stroke-width="1.5"/>
<line x1="610.40" y1="125.00" x2="610.65" y2="130.64" stroke="#2020c8" stroke-width="1.5"/>
<line x1="610.65" y1="130.64" x2="610.90" y2="136.27" stroke="#a8b8e0" stroke-width="1.5"/>
<line x1="610.40" y1="125.00" x2="614.65" y2="130.84" stroke="#2020c8" stroke-width="1.5"/>
<line x1="614.65" y1="130.84" x2="618.90" y2="136.67" stroke="#a8b8e0" stroke-width="1.5"/>
<line x1="591.30" y1="111.20" x2="591.50" y2="114.55" stroke="#e8e0e0" stroke-width="1.9"/>
<line x1="591.50" y1="114.55" x2="591.70" y2="117.90" stroke="#ee2222" stroke-width="1.9"/>
<line x1="591.70" y1="117.90" x2="586.95" y2="125.15" stroke="#ee2222" stroke-width="1.9"/>
<line x1="586.95" y1="125.15" x2="582.20" y2="132.40" stroke="#c89a28" stroke-width="1.9"/>
<line x1="591.70" y1="117.90" x2="601.05" y2="121.45" stroke="#ee2222" stroke-width="1.9"/>
<line x1="601.05" y1="121.45" x2="610.40" y2="125.00" stroke="#2020c8" stroke-width="1.9"/>
<line x1="610.40" y1="125.00" x2="611.95" y2="118.10" stroke="#2020c8" stroke-width="1.9"/>
<line x1="611.95" y1="118.10" x2="613.50" y2="111.20" stroke="#ee2222" stroke-width="1.9"/>
<circle cx="582.20" cy="131.90" r="4.70" fill="url(#gFe)"/>
<circle cx="610.40" cy="125.00" r="5.20" fill="url(#gCo)"/>
<line x1="563.50" y1="136.90" x2="625.40" y2="140.00" stroke="#7a4a2a" stroke-width="4.6"/>
<circle cx="563.50" cy="136.90" r="3.60" fill="url(#gC)"/>
<circle cx="575.88" cy="137.52" r="3.60" fill="url(#gC)"/>
<circle cx="588.26" cy="138.14" r="3.60" fill="url(#gC)"/>
<circle cx="600.64" cy="138.76" r="3.60" fill="url(#gC)"/>
<circle cx="613.02" cy="139.38" r="3.60" fill="url(#gC)"/>
<circle cx="625.40" cy="140.00" r="3.60" fill="url(#gC)"/>
<circle cx="591.30" cy="111.20" r="1.90" fill="url(#gH)"/>
<circle cx="591.70" cy="117.90" r="2.80" fill="url(#gO)"/>
<circle cx="613.50" cy="111.20" r="2.80" fill="url(#gO)"/>
<text x="589.30" y="160.20" font-size="8.9" font-family="'Liberation Sans', sans-serif" fill="#111">OH* + O*+H<tspan font-size="6" dy="1.7">2</tspan><tspan dy="-1.7">O</tspan></text>
<circle cx="454.70" cy="169.50" r="2.90" fill="url(#gC)"/>
<circle cx="467.10" cy="169.82" r="2.90" fill="url(#gC)"/>
<circle cx="479.50" cy="170.14" r="2.90" fill="url(#gC)"/>
<circle cx="491.90" cy="170.46" r="2.90" fill="url(#gC)"/>
<circle cx="504.30" cy="170.78" r="2.90" fill="url(#gC)"/>
<circle cx="516.70" cy="171.10" r="2.90" fill="url(#gC)"/>
<ellipse cx="458.30" cy="169.36" rx="3.0" ry="1.4" fill="#aebde2"/>
<ellipse cx="470.70" cy="169.68" rx="3.0" ry="1.4" fill="#aebde2"/>
<ellipse cx="483.10" cy="170.00" rx="3.0" ry="1.4" fill="#aebde2"/>
<ellipse cx="495.50" cy="170.32" rx="3.0" ry="1.4" fill="#aebde2"/>
<ellipse cx="507.90" cy="170.64" rx="3.0" ry="1.4" fill="#aebde2"/>
<line x1="470.80" y1="165.60" x2="466.30" y2="167.33" stroke="#c89a28" stroke-width="1.6"/>
<line x1="466.30" y1="167.33" x2="461.80" y2="169.05" stroke="#a8b8e0" stroke-width="1.6"/>
<line x1="470.80" y1="165.60" x2="474.80" y2="167.54" stroke="#c89a28" stroke-width="1.6"/>
<line x1="474.80" y1="167.54" x2="478.80" y2="169.49" stroke="#a8b8e0" stroke-width="1.6"/>
<line x1="470.80" y1="165.60" x2="484.70" y2="163.70" stroke="#c89a28" stroke-width="1.7"/>
<line x1="484.70" y1="163.70" x2="498.60" y2="161.80" stroke="#2020c8" stroke-width="1.7"/>
<line x1="498.60" y1="161.80" x2="495.10" y2="165.81" stroke="#2020c8" stroke-width="1.5"/>
<line x1="495.10" y1="165.81" x2="491.60" y2="169.82" stroke="#a8b8e0" stroke-width="1.5"/>
<line x1="498.60" y1="161.80" x2="498.85" y2="165.91" stroke="#2020c8" stroke-width="1.5"/>
<line x1="498.85" y1="165.91" x2="499.10" y2="170.01" stroke="#a8b8e0" stroke-width="1.5"/>
<line x1="498.60" y1="161.80" x2="502.85" y2="166.01" stroke="#2020c8" stroke-width="1.5"/>
<line x1="502.85" y1="166.01" x2="507.10" y2="170.22" stroke="#a8b8e0" stroke-width="1.5"/>
<line x1="482.00" y1="145.20" x2="481.80" y2="148.70" stroke="#e8e0e0" stroke-width="1.9"/>
<line x1="481.80" y1="148.70" x2="481.60" y2="152.20" stroke="#ee2222" stroke-width="1.9"/>
<line x1="481.60" y1="152.20" x2="476.00" y2="158.90" stroke="#ee2222" stroke-width="1.9"/>
<line x1="476.00" y1="158.90" x2="470.40" y2="165.60" stroke="#c89a28" stroke-width="1.9"/>
<line x1="481.60" y1="152.20" x2="490.00" y2="156.90" stroke="#ee2222" stroke-width="1.9"/>
<line x1="490.00" y1="156.90" x2="498.40" y2="161.60" stroke="#2020c8" stroke-width="1.9"/>
<line x1="498.40" y1="161.60" x2="500.15" y2="153.40" stroke="#2020c8" stroke-width="1.9"/>
<line x1="500.15" y1="153.40" x2="501.90" y2="145.20" stroke="#ee2222" stroke-width="1.9"/>
<line x1="501.90" y1="145.20" x2="505.95" y2="145.20" stroke="#ee2222" stroke-width="1.9"/>
<line x1="505.95" y1="145.20" x2="510.00" y2="145.20" stroke="#e8e0e0" stroke-width="1.9"/>
<line x1="483.80" y1="145.20" x2="499.50" y2="145.20" stroke="#c8c8c8" stroke-width="0.8" stroke-dasharray="1 1"/>
<circle cx="470.80" cy="165.60" r="4.70" fill="url(#gFe)"/>
<circle cx="498.60" cy="161.80" r="5.20" fill="url(#gCo)"/>
<line x1="452.10" y1="176.20" x2="482.90" y2="176.84" stroke="#6a3c1c" stroke-width="4"/>
<circle cx="452.10" cy="176.20" r="3.60" fill="url(#gC)"/>
<circle cx="464.50" cy="176.52" r="3.60" fill="url(#gC)"/>
<circle cx="476.90" cy="176.84" r="3.60" fill="url(#gC)"/>
<line x1="452.10" y1="171.80" x2="514.10" y2="173.40" stroke="#7a4a2a" stroke-width="4.6"/>
<circle cx="452.10" cy="171.80" r="3.60" fill="url(#gC)"/>
<circle cx="464.50" cy="172.12" r="3.60" fill="url(#gC)"/>
<circle cx="476.90" cy="172.44" r="3.60" fill="url(#gC)"/>
<circle cx="489.30" cy="172.76" r="3.60" fill="url(#gC)"/>
<circle cx="501.70" cy="173.08" r="3.60" fill="url(#gC)"/>
<circle cx="514.10" cy="173.40" r="3.60" fill="url(#gC)"/>
<circle cx="482.00" cy="145.20" r="1.90" fill="url(#gH)"/>
<circle cx="481.60" cy="152.20" r="2.80" fill="url(#gO)"/>
<circle cx="501.90" cy="145.20" r="2.80" fill="url(#gO)"/>
<circle cx="510.00" cy="145.20" r="1.90" fill="url(#gH)"/>
<text x="507.80" y="160.10" font-size="8.9" font-family="'Liberation Sans', sans-serif" fill="#111">OH* + OH*</text>
<text x="352.80" y="96.30" font-size="8.9" font-family="'Liberation Sans', sans-serif" fill="#111">Pathway</text>
<text x="397.00" y="96.30" font-size="8.9" font-family="'Liberation Serif', serif" fill="#111" text-anchor="end">II</text>
<text x="376.00" y="107.20" font-size="8.9" font-family="'Liberation Sans', sans-serif" fill="#111" text-anchor="middle">η = 1.14 V</text>
<text x="496.70" y="95.20" font-size="8.9" font-family="'Liberation Sans', sans-serif" fill="#111">Pathway</text>
<text x="542.50" y="95.20" font-size="8.9" font-family="'Liberation Serif', serif" fill="#111" text-anchor="end">IV</text>
<text x="519.50" y="106.20" font-size="8.9" font-family="'Liberation Sans', sans-serif" fill="#111" text-anchor="middle">η = 0.43 V</text>
<path d="M334.40,33.10 Q324.50,36.50 313.70,48.80" fill="none" stroke="#ff3c3c" stroke-width="0.85" stroke-dasharray="1 0.9" marker-end="url(#ahr)"/>
<path d="M291.20,94.00 Q289.50,107.00 293.90,119.90" fill="none" stroke="#ff3c3c" stroke-width="0.85" stroke-dasharray="1 0.9" marker-end="url(#ahr)"/>
<path d="M304.70,143.60 Q309.50,169.90 350.00,175.50" fill="none" stroke="#ff3c3c" stroke-width="0.85" stroke-dasharray="1 0.9" marker-end="url(#ahr)"/>
<path d="M422.00,156.70 Q436.20,140.90 441.60,127.60" fill="none" stroke="#ff3c3c" stroke-width="0.85" stroke-dasharray="1 0.9" marker-end="url(#ahr)"/>
<path d="M443.00,80.80 Q438.50,65.40 425.90,50.80" fill="none" stroke="#ff3c3c" stroke-width="0.85" stroke-dasharray="1 0.9" marker-end="url(#ahr)"/>
<path d="M447.60,81.50 Q450.70,64.60 463.80,51.70" fill="none" stroke="#3c8ee0" stroke-width="0.95" marker-end="url(#ahb)"/>
<path d="M563.90,36.80 Q573.40,42.60 582.60,53.60" fill="none" stroke="#3c8ee0" stroke-width="0.95" marker-end="url(#ahb)"/>
<path d="M597.30,89.00 Q596.80,100.00 598.30,113.20" fill="none" stroke="#3c8ee0" stroke-width="0.95" marker-end="url(#ahb)"/>
<path d="M585.60,144.50 Q572.40,169.20 536.40,176.00" fill="none" stroke="#3c8ee0" stroke-width="0.95" marker-end="url(#ahb)"/>
<path d="M470.00,156.70 Q458.20,145.90 450.40,127.60" fill="none" stroke="#3c8ee0" stroke-width="0.95" marker-end="url(#ahb)"/>
<circle cx="655.80" cy="17.00" r="3.00" fill="url(#gFe)"/>
<text x="656.90" y="32.10" font-size="8.9" font-family="'Liberation Sans', sans-serif" fill="#111" text-anchor="middle">Fe</text>
<circle cx="656.50" cy="40.00" r="3.00" fill="url(#gCo)"/>
<text x="656.70" y="54.30" font-size="8.9" font-family="'Liberation Sans', sans-serif" fill="#111" text-anchor="middle">Co</text>
<circle cx="656.40" cy="65.50" r="2.60" fill="url(#gC)"/>
<text x="656.20" y="80.00" font-size="8.9" font-family="'Liberation Sans', sans-serif" fill="#111" text-anchor="middle">C</text>
<circle cx="657.00" cy="87.90" r="2.50" fill="url(#gNg)"/>
<text x="656.70" y="102.70" font-size="8.9" font-family="'Liberation Sans', sans-serif" fill="#111" text-anchor="middle">N</text>
<circle cx="657.40" cy="112.80" r="2.50" fill="url(#gO)"/>
<text x="657.80" y="127.40" font-size="8.9" font-family="'Liberation Sans', sans-serif" fill="#111" text-anchor="middle">O</text>
<circle cx="657.50" cy="136.60" r="2.20" fill="url(#gH)"/>
<text x="658.30" y="150.70" font-size="8.9" font-family="'Liberation Sans', sans-serif" fill="#111" text-anchor="middle">H</text>
<text x="-0.60" y="214.60" font-size="15.5" font-family="'Liberation Sans', sans-serif" fill="#000" font-weight="bold">c</text>
<defs><linearGradient id="barg" x1="0" x2="1" y1="0" y2="0">
<stop offset="0" stop-color="#c498f8"/><stop offset="0.1" stop-color="#c9a1fa"/>
<stop offset="0.24" stop-color="#e2cffd"/><stop offset="0.38" stop-color="#faf6ff"/>
<stop offset="0.48" stop-color="#ffffff"/><stop offset="0.6" stop-color="#f5eefe"/>
<stop offset="0.78" stop-color="#dfc6fc"/><stop offset="0.92" stop-color="#cea5fb"/>
<stop offset="1" stop-color="#c493fb"/></linearGradient></defs>
<rect x="38.80" y="262.31" width="19.8" height="107.30" fill="url(#barg)"/>
<text x="48.70" y="258.41" font-size="9" font-family="'Liberation Sans', sans-serif" fill="#111" text-anchor="middle">-3.45</text>
<rect x="87.10" y="281.28" width="19.8" height="88.32" fill="url(#barg)"/>
<text x="97.00" y="277.38" font-size="9" font-family="'Liberation Sans', sans-serif" fill="#111" text-anchor="middle">-2.84</text>
<rect x="136.10" y="288.74" width="19.8" height="80.86" fill="url(#barg)"/>
<text x="146.00" y="284.84" font-size="9" font-family="'Liberation Sans', sans-serif" fill="#111" text-anchor="middle">-2.60</text>
<rect x="185.10" y="276.61" width="19.8" height="92.99" fill="url(#barg)"/>
<text x="195.00" y="272.71" font-size="9" font-family="'Liberation Sans', sans-serif" fill="#111" text-anchor="middle">-2.99</text>
<rect x="24.90" y="213.90" width="193.90" height="155.70" stroke="#000" stroke-width="1.9" fill="none"/>
<line x1="24.90" y1="369.60" x2="27.70" y2="369.60" stroke="#000" stroke-width="1.2" />
<text x="20.70" y="372.70" font-size="8.8" font-family="'Liberation Sans', sans-serif" fill="#111" text-anchor="end">0</text>
<line x1="24.90" y1="338.50" x2="27.70" y2="338.50" stroke="#000" stroke-width="1.2" />
<text x="20.70" y="341.60" font-size="8.8" font-family="'Liberation Sans', sans-serif" fill="#111" text-anchor="end">-1</text>
<line x1="24.90" y1="307.40" x2="27.70" y2="307.40" stroke="#000" stroke-width="1.2" />
<text x="20.70" y="310.50" font-size="8.8" font-family="'Liberation Sans', sans-serif" fill="#111" text-anchor="end">-2</text>
<line x1="24.90" y1="276.30" x2="27.70" y2="276.30" stroke="#000" stroke-width="1.2" />
<text x="20.70" y="279.40" font-size="8.8" font-family="'Liberation Sans', sans-serif" fill="#111" text-anchor="end">-3</text>
<line x1="24.90" y1="245.20" x2="27.70" y2="245.20" stroke="#000" stroke-width="1.2" />
<text x="20.70" y="248.30" font-size="8.8" font-family="'Liberation Sans', sans-serif" fill="#111" text-anchor="end">-4</text>
<line x1="24.90" y1="214.10" x2="27.70" y2="214.10" stroke="#000" stroke-width="1.2" />
<text x="20.70" y="217.20" font-size="8.8" font-family="'Liberation Sans', sans-serif" fill="#111" text-anchor="end">-5</text>
<line x1="48.70" y1="369.60" x2="48.70" y2="367.00" stroke="#000" stroke-width="1.2" />
<line x1="97.00" y1="369.60" x2="97.00" y2="367.00" stroke="#000" stroke-width="1.2" />
<line x1="146.00" y1="369.60" x2="146.00" y2="367.00" stroke="#000" stroke-width="1.2" />
<line x1="195.00" y1="369.60" x2="195.00" y2="367.00" stroke="#000" stroke-width="1.2" />
<text x="7.00" y="297.20" font-size="9" font-family="'Liberation Sans', sans-serif" fill="#111" text-anchor="middle" transform="rotate(-90 7.00 297.20)">*OH Adsorption Energy (eV)</text>
<text x="47.00" y="383.00" font-size="8.8" font-family="'Liberation Sans', sans-serif" fill="#111" text-anchor="middle">FeCo-NC</text>
<text x="95.40" y="383.00" font-size="8.8" font-family="'Liberation Sans', sans-serif" fill="#111" text-anchor="middle">FeCo-NC-OH</text>
<text x="94.00" y="394.00" font-size="8.8" font-family="'Liberation Sans', sans-serif" fill="#111" text-anchor="middle">(Fe)</text>
<text x="152.20" y="383.00" font-size="8.8" font-family="'Liberation Sans', sans-serif" fill="#111" text-anchor="middle">FeCo-NC-OH</text>
<text x="151.30" y="394.00" font-size="8.8" font-family="'Liberation Sans', sans-serif" fill="#111" text-anchor="middle">(Co)</text>
<text x="195.80" y="383.00" font-size="8.8" font-family="'Liberation Sans', sans-serif" fill="#111" text-anchor="middle">Fe-NC</text>
<text x="246.20" y="220.30" font-size="15.5" font-family="'Liberation Sans', sans-serif" fill="#000" font-weight="bold">d</text>
<polyline points="272.90,250.60 374.10,250.60 375.60,229.10 377.10,250.60 377.70,250.60 378.70,239.70 379.70,250.60 383.50,250.60 384.50,244.00 385.50,250.60 447.40,250.60" stroke="#474747" stroke-width="1.3" fill="none" stroke-linejoin="round" />
<polyline points="272.90,250.60 369.00,250.60 370.20,283.40 371.40,250.60 373.80,250.60 375.00,262.00 376.20,250.60 447.40,250.60" stroke="#474747" stroke-width="1.3" fill="none" stroke-linejoin="round" />
<polyline points="272.90,250.60 381.80,250.60 383.20,233.20 384.60,250.60 386.00,250.60 387.00,247.00 388.00,250.60 447.40,250.60" stroke="#8a8478" stroke-width="1.3" fill="none" stroke-linejoin="round" />
<polyline points="272.90,250.60 373.40,250.60 374.60,262.10 375.80,250.60 376.50,250.60 377.70,265.00 378.90,250.60 387.60,250.60 388.80,260.10 390.00,250.60 391.50,250.60 392.50,254.00 393.50,250.60 447.40,250.60" stroke="#8a8478" stroke-width="1.3" fill="none" stroke-linejoin="round" />
<polyline points="272.90,250.60 380.10,250.60 381.70,222.60 383.30,250.60 447.40,250.60" stroke="#ee3535" stroke-width="1.3" fill="none" stroke-linejoin="round" />
<polyline points="272.90,250.60 378.50,250.60 380.00,267.20 381.50,250.60 447.40,250.60" stroke="#ee3535" stroke-width="1.3" fill="none" stroke-linejoin="round" />
<polyline points="272.90,250.60 381.70,250.60 382.70,244.30 383.70,250.60 386.50,250.60 387.80,238.20 389.10,250.60 391.40,250.60 392.60,246.50 393.80,250.60 395.40,250.60 396.60,243.30 397.80,250.60 447.40,250.60" stroke="#2278e6" stroke-width="1.3" fill="none" stroke-linejoin="round" />
<polyline points="272.90,250.60 376.40,250.60 377.70,274.30 379.00,250.60 396.40,250.60 397.60,258.50 398.80,250.60 447.40,250.60" stroke="#2278e6" stroke-width="1.3" fill="none" stroke-linejoin="round" />
<polyline points="272.90,250.60 327.00,250.60 330.00,249.50 333.00,250.60 349.00,250.60 352.00,249.50 355.00,250.60 373.90,250.60 375.10,244.80 376.30,250.60 401.90,250.60 403.70,236.10 405.50,250.60 447.40,250.60" stroke="#a66ce8" stroke-width="1.3" fill="none" stroke-linejoin="round" />
<polyline points="272.90,250.60 367.90,250.60 370.10,272.20 372.30,250.60 404.30,250.60 405.80,253.80 407.30,250.60 413.50,250.60 415.30,255.90 417.10,250.60 447.40,250.60" stroke="#a66ce8" stroke-width="1.3" fill="none" stroke-linejoin="round" />
<polyline points="272.90,250.60 289.00,250.60 290.40,241.20 291.80,250.60 304.50,250.60 306.12,247.37 307.38,246.80 308.82,246.80 310.08,247.37 311.70,250.60 322.60,250.60 324.50,238.10 326.40,250.60 342.50,250.60 344.90,244.50 347.30,250.60 366.50,250.60 368.30,244.30 370.10,250.60 377.00,250.60 378.50,246.00 380.00,250.60 384.00,250.60 385.50,247.50 387.00,250.60 418.40,250.60 420.40,238.30 422.40,250.60 447.40,250.60" stroke="#d6a6b2" stroke-width="1.5" fill="none" stroke-linejoin="round" />
<polyline points="272.90,250.60 289.00,250.60 290.40,260.20 291.80,250.60 304.50,250.60 306.12,253.91 307.38,254.50 308.82,254.50 310.08,253.91 311.70,250.60 322.60,250.60 324.50,263.50 326.40,250.60 346.40,250.60 348.80,260.00 351.20,250.60 361.20,250.60 363.00,260.10 364.80,250.60 370.80,250.60 372.00,255.00 373.20,250.60 418.60,250.60 421.00,258.80 423.40,250.60 447.40,250.60" stroke="#d6a6b2" stroke-width="1.5" fill="none" stroke-linejoin="round" />
<polyline points="272.90,330.00 367.90,330.00 369.40,317.90 370.90,330.00 371.10,330.00 372.60,316.20 374.10,330.00 447.40,330.00" stroke="#474747" stroke-width="1.3" fill="none" stroke-linejoin="round" />
<polyline points="272.90,330.00 377.80,330.00 379.00,354.20 380.20,330.00 390.80,330.00 392.00,334.00 393.20,330.00 447.40,330.00" stroke="#474747" stroke-width="1.3" fill="none" stroke-linejoin="round" />
<polyline points="272.90,330.00 377.00,330.00 378.00,327.00 379.00,330.00 447.40,330.00" stroke="#8a8478" stroke-width="1.3" fill="none" stroke-linejoin="round" />
<polyline points="272.90,330.00 384.80,330.00 386.00,333.00 387.20,330.00 392.30,330.00 393.50,333.00 394.70,330.00 447.40,330.00" stroke="#8a8478" stroke-width="1.3" fill="none" stroke-linejoin="round" />
<polyline points="272.90,330.00 342.30,330.00 344.80,328.20 347.30,330.00 346.00,330.00 348.00,328.50 350.00,330.00 447.40,330.00" stroke="#ee3535" stroke-width="1.3" fill="none" stroke-linejoin="round" />
<polyline points="272.90,330.00 344.50,330.00 347.00,332.00 349.50,330.00 394.10,330.00 395.70,343.40 397.30,330.00 447.40,330.00" stroke="#ee3535" stroke-width="1.3" fill="none" stroke-linejoin="round" />
<polyline points="272.90,330.00 288.00,330.00 289.00,329.00 290.00,330.00 363.50,330.00 365.00,318.30 366.50,330.00 383.20,330.00 384.60,326.60 386.00,330.00 447.40,330.00" stroke="#2278e6" stroke-width="1.3" fill="none" stroke-linejoin="round" />
<polyline points="272.90,330.00 372.90,330.00 375.40,345.50 377.90,330.00 381.90,330.00 383.40,336.50 384.90,330.00 447.40,330.00" stroke="#2278e6" stroke-width="1.3" fill="none" stroke-linejoin="round" />
<polyline points="272.90,330.00 315.00,330.00 318.00,328.50 321.00,330.00 327.00,330.00 330.00,328.50 333.00,330.00 368.70,330.00 370.20,325.50 371.70,330.00 378.90,330.00 380.40,319.40 381.90,330.00 398.00,330.00 399.50,326.20 401.00,330.00 400.90,330.00 402.40,326.00 403.90,330.00 424.00,330.00 426.00,328.00 428.00,330.00 447.40,330.00" stroke="#a66ce8" stroke-width="1.3" fill="none" stroke-linejoin="round" />
<polyline points="272.90,330.00 377.10,330.00 378.90,342.70 380.70,330.00 387.20,330.00 388.70,336.00 390.20,330.00 407.60,330.00 409.10,341.90 410.60,330.00 447.40,330.00" stroke="#a66ce8" stroke-width="1.3" fill="none" stroke-linejoin="round" />
<polyline points="272.90,330.00 287.30,330.00 288.70,319.10 290.10,330.00 310.20,330.00 311.82,326.60 313.08,326.00 314.52,326.00 315.78,326.60 317.40,330.00 323.10,330.00 324.18,325.92 325.02,325.20 325.98,325.20 326.82,325.92 327.90,330.00 354.90,330.00 356.90,320.50 358.90,330.00 376.30,330.00 378.10,312.20 379.90,330.00 423.60,330.00 425.40,325.60 427.20,330.00 426.50,330.00 428.00,327.00 429.50,330.00 447.40,330.00" stroke="#d6a6b2" stroke-width="1.5" fill="none" stroke-linejoin="round" />
<polyline points="272.90,330.00 287.30,330.00 288.70,341.50 290.10,330.00 310.20,330.00 311.82,333.40 313.08,334.00 314.52,334.00 315.78,333.40 317.40,330.00 323.10,330.00 324.18,334.25 325.02,335.00 325.98,335.00 326.82,334.25 327.90,330.00 361.00,330.00 362.80,354.60 364.60,330.00 366.30,330.00 367.90,340.90 369.50,330.00 426.50,330.00 428.00,333.00 429.50,330.00 447.40,330.00" stroke="#d6a6b2" stroke-width="1.5" fill="none" stroke-linejoin="round" />
<line x1="389.50" y1="212.60" x2="389.50" y2="288.70" stroke="#000" stroke-width="0.9" stroke-dasharray="1.4 1"/>
<line x1="389.50" y1="292.00" x2="389.50" y2="367.60" stroke="#000" stroke-width="0.9" stroke-dasharray="1.4 1"/>
<rect x="271.90" y="212.60" width="176.50" height="76.10" stroke="#000" stroke-width="1.8" fill="none"/>
<rect x="271.90" y="292.00" width="176.50" height="75.60" stroke="#000" stroke-width="1.8" fill="none"/>
<line x1="271.90" y1="281.20" x2="273.90" y2="281.20" stroke="#000" stroke-width="1.1" />
<text x="269.40" y="283.80" font-size="7.4" font-family="'Liberation Sans', sans-serif" fill="#111" text-anchor="end">−4</text>
<line x1="271.90" y1="265.90" x2="273.90" y2="265.90" stroke="#000" stroke-width="1.1" />
<text x="269.40" y="268.50" font-size="7.4" font-family="'Liberation Sans', sans-serif" fill="#111" text-anchor="end">−2</text>
<line x1="271.90" y1="250.60" x2="273.90" y2="250.60" stroke="#000" stroke-width="1.1" />
<text x="269.40" y="253.20" font-size="7.4" font-family="'Liberation Sans', sans-serif" fill="#111" text-anchor="end">0</text>
<line x1="271.90" y1="235.30" x2="273.90" y2="235.30" stroke="#000" stroke-width="1.1" />
<text x="269.40" y="237.90" font-size="7.4" font-family="'Liberation Sans', sans-serif" fill="#111" text-anchor="end">2</text>
<line x1="271.90" y1="220.00" x2="273.90" y2="220.00" stroke="#000" stroke-width="1.1" />
<text x="269.40" y="222.60" font-size="7.4" font-family="'Liberation Sans', sans-serif" fill="#111" text-anchor="end">4</text>
<line x1="271.90" y1="360.60" x2="273.90" y2="360.60" stroke="#000" stroke-width="1.1" />
<text x="269.40" y="363.20" font-size="7.4" font-family="'Liberation Sans', sans-serif" fill="#111" text-anchor="end">−4</text>
<line x1="271.90" y1="345.30" x2="273.90" y2="345.30" stroke="#000" stroke-width="1.1" />
<text x="269.40" y="347.90" font-size="7.4" font-family="'Liberation Sans', sans-serif" fill="#111" text-anchor="end">−2</text>
<line x1="271.90" y1="330.00" x2="273.90" y2="330.00" stroke="#000" stroke-width="1.1" />
<text x="269.40" y="332.60" font-size="7.4" font-family="'Liberation Sans', sans-serif" fill="#111" text-anchor="end">0</text>
<line x1="271.90" y1="314.70" x2="273.90" y2="314.70" stroke="#000" stroke-width="1.1" />
<text x="269.40" y="317.30" font-size="7.4" font-family="'Liberation Sans', sans-serif" fill="#111" text-anchor="end">2</text>
<line x1="271.90" y1="299.40" x2="273.90" y2="299.40" stroke="#000" stroke-width="1.1" />
<text x="269.40" y="302.00" font-size="7.4" font-family="'Liberation Sans', sans-serif" fill="#111" text-anchor="end">4</text>
<line x1="295.26" y1="288.70" x2="295.26" y2="286.90" stroke="#000" stroke-width="1.1" />
<line x1="295.26" y1="367.60" x2="295.26" y2="365.80" stroke="#000" stroke-width="1.1" />
<line x1="318.82" y1="288.70" x2="318.82" y2="286.90" stroke="#000" stroke-width="1.1" />
<line x1="318.82" y1="367.60" x2="318.82" y2="365.80" stroke="#000" stroke-width="1.1" />
<line x1="342.38" y1="288.70" x2="342.38" y2="286.90" stroke="#000" stroke-width="1.1" />
<line x1="342.38" y1="367.60" x2="342.38" y2="365.80" stroke="#000" stroke-width="1.1" />
<line x1="365.94" y1="288.70" x2="365.94" y2="286.90" stroke="#000" stroke-width="1.1" />
<line x1="365.94" y1="367.60" x2="365.94" y2="365.80" stroke="#000" stroke-width="1.1" />
<line x1="389.50" y1="288.70" x2="389.50" y2="286.90" stroke="#000" stroke-width="1.1" />
<line x1="389.50" y1="367.60" x2="389.50" y2="365.80" stroke="#000" stroke-width="1.1" />
<line x1="413.06" y1="288.70" x2="413.06" y2="286.90" stroke="#000" stroke-width="1.1" />
<line x1="413.06" y1="367.60" x2="413.06" y2="365.80" stroke="#000" stroke-width="1.1" />
<line x1="436.62" y1="288.70" x2="436.62" y2="286.90" stroke="#000" stroke-width="1.1" />
<line x1="436.62" y1="367.60" x2="436.62" y2="365.80" stroke="#000" stroke-width="1.1" />
<text x="271.70" y="377.00" font-size="7.4" font-family="'Liberation Sans', sans-serif" fill="#111" text-anchor="middle">−10</text>
<text x="295.26" y="377.00" font-size="7.4" font-family="'Liberation Sans', sans-serif" fill="#111" text-anchor="middle">−8</text>
<text x="318.82" y="377.00" font-size="7.4" font-family="'Liberation Sans', sans-serif" fill="#111" text-anchor="middle">−6</text>
<text x="342.38" y="377.00" font-size="7.4" font-family="'Liberation Sans', sans-serif" fill="#111" text-anchor="middle">−4</text>
<text x="365.94" y="377.00" font-size="7.4" font-family="'Liberation Sans', sans-serif" fill="#111" text-anchor="middle">−2</text>
<text x="389.50" y="377.00" font-size="7.4" font-family="'Liberation Sans', sans-serif" fill="#111" text-anchor="middle">0</text>
<text x="413.06" y="377.00" font-size="7.4" font-family="'Liberation Sans', sans-serif" fill="#111" text-anchor="middle">2</text>
<text x="436.62" y="377.00" font-size="7.4" font-family="'Liberation Sans', sans-serif" fill="#111" text-anchor="middle">4</text>
<text x="253.40" y="292.50" font-size="9" font-family="'Liberation Sans', sans-serif" fill="#111" text-anchor="middle" transform="rotate(-90 253.40 292.50)">Density of States (states/ eV)</text>
<text x="368.50" y="391.30" font-size="8.9" font-family="'Liberation Sans', sans-serif" fill="#111" text-anchor="middle">Energy (eV)</text>
<text x="397.50" y="225.20" font-size="9.2" font-family="'Liberation Sans', sans-serif" fill="#111">Pathway <tspan font-family="'Liberation Serif', serif">II</tspan></text>
<text x="397.60" y="305.80" font-size="9.2" font-family="'Liberation Sans', sans-serif" fill="#111">Pathway <tspan font-family="'Liberation Serif', serif">IV</tspan></text>
<line x1="276.00" y1="221.50" x2="283.10" y2="221.50" stroke="#474747" stroke-width="1.6" />
<text x="286.40" y="222.20" font-size="8.0" font-family="'Liberation Sans', sans-serif" fill="#111">Co <tspan font-style="italic">d</tspan><tspan font-size="5.2" dy="2.2">xy</tspan></text>
<line x1="276.00" y1="227.70" x2="283.10" y2="227.70" stroke="#ee3535" stroke-width="1.6" />
<text x="286.40" y="229.80" font-size="8.0" font-family="'Liberation Sans', sans-serif" fill="#111">Co <tspan font-style="italic">d</tspan><tspan font-size="5.2" dy="2.2">yz</tspan></text>
<line x1="276.00" y1="233.90" x2="283.10" y2="233.90" stroke="#2278e6" stroke-width="1.6" />
<text x="286.40" y="237.60" font-size="8.0" font-family="'Liberation Sans', sans-serif" fill="#111">Co <tspan font-style="italic">d</tspan><tspan font-size="5.2" dy="2.2">z<tspan font-size="3.6" dy="-2">2</tspan></tspan></text>
<line x1="275.90" y1="266.80" x2="283.40" y2="266.80" stroke="#8a8478" stroke-width="1.6" />
<text x="287.60" y="267.50" font-size="8.0" font-family="'Liberation Sans', sans-serif" fill="#111">Co <tspan font-style="italic">d</tspan><tspan font-size="5.2" dy="2.2">xz</tspan></text>
<line x1="275.90" y1="273.10" x2="283.40" y2="273.10" stroke="#a66ce8" stroke-width="1.6" />
<text x="287.60" y="276.00" font-size="8.0" font-family="'Liberation Sans', sans-serif" fill="#111">Co <tspan font-style="italic">d</tspan><tspan font-size="5.2" dy="2.2">x<tspan font-size="3.6" dy="-2">2</tspan><tspan dy="2">−y</tspan><tspan font-size="3.6" dy="-2">2</tspan></tspan></text>
<line x1="275.90" y1="279.00" x2="283.40" y2="279.00" stroke="#d6a6b2" stroke-width="1.6" />
<text x="287.00" y="281.60" font-size="8.0" font-family="'Liberation Sans', sans-serif" fill="#111">O <tspan font-style="italic">p</tspan></text>
<text x="479.00" y="220.00" font-size="16" font-family="'Liberation Sans', sans-serif" fill="#000" font-weight="bold">e</text>
<path d="M505.60,248.50 C505.60,246.18 505.28,236.52 505.60,234.60 C505.92,232.68 506.77,235.77 507.50,237.00 C508.23,238.23 508.93,240.38 510.00,242.00 C511.07,243.62 512.73,246.28 513.90,246.70 C515.07,247.12 515.98,246.28 517.00,244.50 C518.02,242.72 519.10,238.58 520.00,236.00 C520.90,233.42 521.65,229.33 522.40,229.00 C523.15,228.67 523.90,231.67 524.50,234.00 C525.10,236.33 525.52,240.58 526.00,243.00 C526.48,245.42 525.07,247.58 527.40,248.50 C529.73,249.42 537.08,248.88 540.00,248.50 C542.92,248.12 543.40,246.20 544.90,246.20 C546.40,246.20 547.65,248.28 549.00,248.50 C550.35,248.72 551.83,248.08 553.00,247.50 C554.17,246.92 554.85,245.58 556.00,245.00 C557.15,244.42 558.57,243.75 559.90,244.00 C561.23,244.25 562.82,245.75 564.00,246.50 C565.18,247.25 565.33,248.17 567.00,248.50 C568.67,248.83 572.50,248.92 574.00,248.50 C575.50,248.08 575.33,246.00 576.00,246.00 C576.67,246.00 575.67,248.08 578.00,248.50 C580.33,248.92 587.50,249.08 590.00,248.50 C592.50,247.92 592.12,245.90 593.00,245.00 C593.88,244.10 594.30,242.93 595.30,243.10 C596.30,243.27 597.88,245.85 599.00,246.00 C600.12,246.15 601.12,244.62 602.00,244.00 C602.88,243.38 603.30,242.05 604.30,242.30 C605.30,242.55 606.63,245.10 608.00,245.50 C609.37,245.90 611.25,244.20 612.50,244.70 C613.75,245.20 615.00,247.87 615.50,248.50 Z" fill="#ff9a9c" stroke="none"/>
<path d="M528.40,248.50 C528.75,248.80 529.77,249.92 530.50,250.30 C531.23,250.68 531.97,250.80 532.80,250.80 C533.63,250.80 534.58,250.68 535.50,250.30 C536.42,249.92 533.05,248.80 538.30,248.50 C543.55,248.20 561.62,248.17 567.00,248.50 C572.38,248.83 569.60,250.50 570.60,250.50 C571.60,250.50 571.85,248.83 573.00,248.50 C574.15,248.17 576.33,247.95 577.50,248.50 C578.67,249.05 579.17,251.80 580.00,251.80 C580.83,251.80 581.75,249.05 582.50,248.50 C583.25,247.95 583.60,247.90 584.50,248.50 C585.40,249.10 586.90,252.10 587.90,252.10 C588.90,252.10 585.80,249.10 590.50,248.50 C595.20,247.90 611.52,246.25 616.10,248.50 C620.68,250.75 617.38,257.52 618.00,262.00 C618.62,266.48 619.22,275.40 619.80,275.40 C620.38,275.40 620.97,265.73 621.50,262.00 C622.03,258.27 622.40,254.67 623.00,253.00 C623.60,251.33 624.35,251.50 625.10,252.00 C625.85,252.50 626.68,253.00 627.50,256.00 C628.32,259.00 629.23,265.40 630.00,270.00 C630.77,274.60 631.43,283.93 632.10,283.60 C632.77,283.27 633.27,272.32 634.00,268.00 C634.73,263.68 635.45,259.67 636.50,257.70 C637.55,255.73 638.83,256.27 640.30,256.20 C641.77,256.13 643.83,257.27 645.30,257.30 C646.77,257.33 647.62,255.68 649.10,256.40 C650.58,257.12 652.52,261.45 654.20,261.60 C655.88,261.75 657.32,258.32 659.20,257.30 C661.08,256.28 663.38,256.13 665.50,255.50 C667.62,254.87 670.00,254.37 671.90,253.50 C673.80,252.63 675.33,251.13 676.90,250.30 C678.47,249.47 680.57,248.80 681.30,248.50 Z" fill="#9c9cfa" stroke="none"/>
<path d="M506.40,329.00 C506.83,327.83 508.00,324.28 509.00,322.00 C510.00,319.72 511.40,315.80 512.40,315.30 C513.40,314.80 514.02,317.23 515.00,319.00 C515.98,320.77 517.30,325.73 518.30,325.90 C519.30,326.07 519.98,322.35 521.00,320.00 C522.02,317.65 523.40,312.30 524.40,311.80 C525.40,311.30 526.15,314.80 527.00,317.00 C527.85,319.20 528.60,323.00 529.50,325.00 C530.40,327.00 530.98,328.33 532.40,329.00 C533.82,329.67 536.57,329.25 538.00,329.00 C539.43,328.75 540.02,327.87 541.00,327.50 C541.98,327.13 542.73,326.83 543.90,326.80 C545.07,326.77 546.53,327.07 548.00,327.30 C549.47,327.53 551.53,329.42 552.70,328.20 C553.87,326.98 554.12,322.73 555.00,320.00 C555.88,317.27 557.17,313.63 558.00,311.80 C558.83,309.97 559.35,309.68 560.00,309.00 C560.65,308.32 561.23,307.53 561.90,307.70 C562.57,307.87 563.32,308.78 564.00,310.00 C564.68,311.22 565.42,313.00 566.00,315.00 C566.58,317.00 567.00,319.67 567.50,322.00 C568.00,324.33 568.75,327.83 569.00,329.00 Z" fill="#ff9a9c" stroke="none"/>
<path d="M533.50,329.00 C533.90,329.17 535.15,330.00 535.90,330.00 C536.65,330.00 532.27,329.17 538.00,329.00 C543.73,328.83 564.47,327.67 570.30,329.00 C576.13,330.33 571.98,333.53 573.00,337.00 C574.02,340.47 575.48,349.13 576.40,349.80 C577.32,350.47 577.63,343.20 578.50,341.00 C579.37,338.80 580.70,337.43 581.60,336.60 C582.50,335.77 583.08,335.03 583.90,336.00 C584.72,336.97 585.73,342.23 586.50,342.40 C587.27,342.57 587.85,338.33 588.50,337.00 C589.15,335.67 589.73,334.23 590.40,334.40 C591.07,334.57 591.77,336.25 592.50,338.00 C593.23,339.75 593.98,344.40 594.80,344.90 C595.62,345.40 596.38,341.70 597.40,341.00 C598.42,340.30 599.82,340.63 600.90,340.70 C601.98,340.77 602.93,340.70 603.90,341.40 C604.87,342.10 605.73,346.13 606.70,344.90 C607.67,343.67 608.62,336.45 609.70,334.00 C610.78,331.55 611.60,331.03 613.20,330.20 C614.80,329.37 617.27,329.20 619.30,329.00 C621.33,328.80 623.95,327.17 625.40,329.00 C626.85,330.83 627.15,335.67 628.00,340.00 C628.85,344.33 629.77,351.03 630.50,355.00 C631.23,358.97 631.73,363.63 632.40,363.80 C633.07,363.97 633.77,358.18 634.50,356.00 C635.23,353.82 635.53,352.90 636.80,350.70 C638.07,348.50 640.65,344.42 642.10,342.80 C643.55,341.18 644.33,341.53 645.50,341.00 C646.67,340.47 647.92,339.30 649.10,339.60 C650.28,339.90 651.13,342.33 652.60,342.80 C654.07,343.27 655.57,342.40 657.90,342.40 C660.23,342.40 664.57,343.08 666.60,342.80 C668.63,342.52 668.35,341.28 670.10,340.70 C671.85,340.12 675.20,341.25 677.10,339.30 C679.00,337.35 680.77,330.72 681.50,329.00 Z" fill="#9c9cfa" stroke="none"/>
<line x1="505.60" y1="248.50" x2="682.80" y2="248.50" stroke="#ffb0b8" stroke-width="0.6" />
<line x1="505.60" y1="329.00" x2="682.80" y2="329.00" stroke="#ffb0b8" stroke-width="0.6" />
<line x1="623.80" y1="211.30" x2="623.80" y2="285.90" stroke="#000" stroke-width="1.6" stroke-dasharray="5 3.4" stroke-dashoffset="-1.5"/>
<line x1="623.80" y1="292.00" x2="623.80" y2="365.50" stroke="#000" stroke-width="1.6" stroke-dasharray="5 3.4" stroke-dashoffset="-1.5"/>
<rect x="505.60" y="211.30" width="177.20" height="74.60" stroke="#000" stroke-width="1.8" fill="none"/>
<rect x="505.60" y="292.00" width="177.20" height="73.50" stroke="#000" stroke-width="1.8" fill="none"/>
<line x1="505.60" y1="285.85" x2="506.90" y2="285.85" stroke="#000" stroke-width="1.0" />
<line x1="505.60" y1="273.40" x2="507.60" y2="273.40" stroke="#000" stroke-width="1.0" />
<line x1="505.60" y1="260.95" x2="506.90" y2="260.95" stroke="#000" stroke-width="1.0" />
<line x1="505.60" y1="248.50" x2="507.60" y2="248.50" stroke="#000" stroke-width="1.0" />
<line x1="505.60" y1="236.05" x2="506.90" y2="236.05" stroke="#000" stroke-width="1.0" />
<line x1="505.60" y1="223.60" x2="507.60" y2="223.60" stroke="#000" stroke-width="1.0" />
<line x1="505.60" y1="356.90" x2="507.60" y2="356.90" stroke="#000" stroke-width="1.0" />
<line x1="505.60" y1="342.95" x2="506.90" y2="342.95" stroke="#000" stroke-width="1.0" />
<line x1="505.60" y1="329.00" x2="507.60" y2="329.00" stroke="#000" stroke-width="1.0" />
<line x1="505.60" y1="315.05" x2="506.90" y2="315.05" stroke="#000" stroke-width="1.0" />
<line x1="505.60" y1="301.10" x2="507.60" y2="301.10" stroke="#000" stroke-width="1.0" />
<line x1="535.35" y1="285.90" x2="535.35" y2="284.30" stroke="#000" stroke-width="1.0" />
<line x1="535.35" y1="365.50" x2="535.35" y2="363.90" stroke="#000" stroke-width="1.0" />
<line x1="564.80" y1="285.90" x2="564.80" y2="284.30" stroke="#000" stroke-width="1.0" />
<line x1="564.80" y1="365.50" x2="564.80" y2="363.90" stroke="#000" stroke-width="1.0" />
<line x1="594.25" y1="285.90" x2="594.25" y2="284.30" stroke="#000" stroke-width="1.0" />
<line x1="594.25" y1="365.50" x2="594.25" y2="363.90" stroke="#000" stroke-width="1.0" />
<line x1="623.70" y1="285.90" x2="623.70" y2="284.30" stroke="#000" stroke-width="1.0" />
<line x1="623.70" y1="365.50" x2="623.70" y2="363.90" stroke="#000" stroke-width="1.0" />
<line x1="653.15" y1="285.90" x2="653.15" y2="284.30" stroke="#000" stroke-width="1.0" />
<line x1="653.15" y1="365.50" x2="653.15" y2="363.90" stroke="#000" stroke-width="1.0" />
<text x="504.20" y="225.40" font-size="8.0" font-family="'Liberation Sans', sans-serif" fill="#111" text-anchor="end">0.2</text>
<text x="504.20" y="249.70" font-size="8.0" font-family="'Liberation Sans', sans-serif" fill="#111" text-anchor="end">0.0</text>
<text x="504.20" y="274.80" font-size="8.0" font-family="'Liberation Sans', sans-serif" fill="#111" text-anchor="end">−0.2</text>
<text x="504.20" y="303.80" font-size="8.0" font-family="'Liberation Sans', sans-serif" fill="#111" text-anchor="end">1.5</text>
<text x="504.20" y="331.70" font-size="8.0" font-family="'Liberation Sans', sans-serif" fill="#111" text-anchor="end">0.0</text>
<text x="504.20" y="359.50" font-size="8.0" font-family="'Liberation Sans', sans-serif" fill="#111" text-anchor="end">−1.5</text>
<text x="505.30" y="376.00" font-size="8.5" font-family="'Liberation Sans', sans-serif" fill="#111" text-anchor="middle">−10</text>
<text x="564.80" y="376.00" font-size="8.5" font-family="'Liberation Sans', sans-serif" fill="#111" text-anchor="middle">−5</text>
<text x="623.70" y="376.00" font-size="8.5" font-family="'Liberation Sans', sans-serif" fill="#111" text-anchor="middle">0</text>
<text x="682.60" y="376.00" font-size="8.5" font-family="'Liberation Sans', sans-serif" fill="#111" text-anchor="middle">5</text>
<text x="484.00" y="288.60" font-size="8.8" font-family="'Liberation Sans', sans-serif" fill="#111" text-anchor="middle" transform="rotate(-90 484.00 288.60)">COHP</text>
<text x="598.40" y="387.70" font-size="8.9" font-family="'Liberation Sans', sans-serif" fill="#111" text-anchor="middle">Energy (eV)</text>
<text x="579.00" y="236.00" font-size="8.9" font-family="'Liberation Sans', sans-serif" fill="#111" text-anchor="middle">ICOHP = -0.2083</text>
<text x="579.70" y="265.70" font-size="8.9" font-family="'Liberation Sans', sans-serif" fill="#111" text-anchor="middle">ICOHP = -0.2075</text>
<text x="618.30" y="305.00" font-size="8.9" font-family="'Liberation Sans', sans-serif" fill="#111" text-anchor="end">ICOHP = -2.2998</text>
<text x="618.90" y="356.90" font-size="8.9" font-family="'Liberation Sans', sans-serif" fill="#111" text-anchor="end">ICOHP = -2.6564</text>
<text x="636.20" y="223.50" font-size="9.0" font-family="'Liberation Sans', sans-serif" fill="#111">Pathway <tspan font-family="'Liberation Serif', serif">II</tspan></text>
<text x="633.20" y="306.00" font-size="9.0" font-family="'Liberation Sans', sans-serif" fill="#111">Pathway <tspan font-family="'Liberation Serif', serif">IV</tspan></text>
</svg>
</body></html>
